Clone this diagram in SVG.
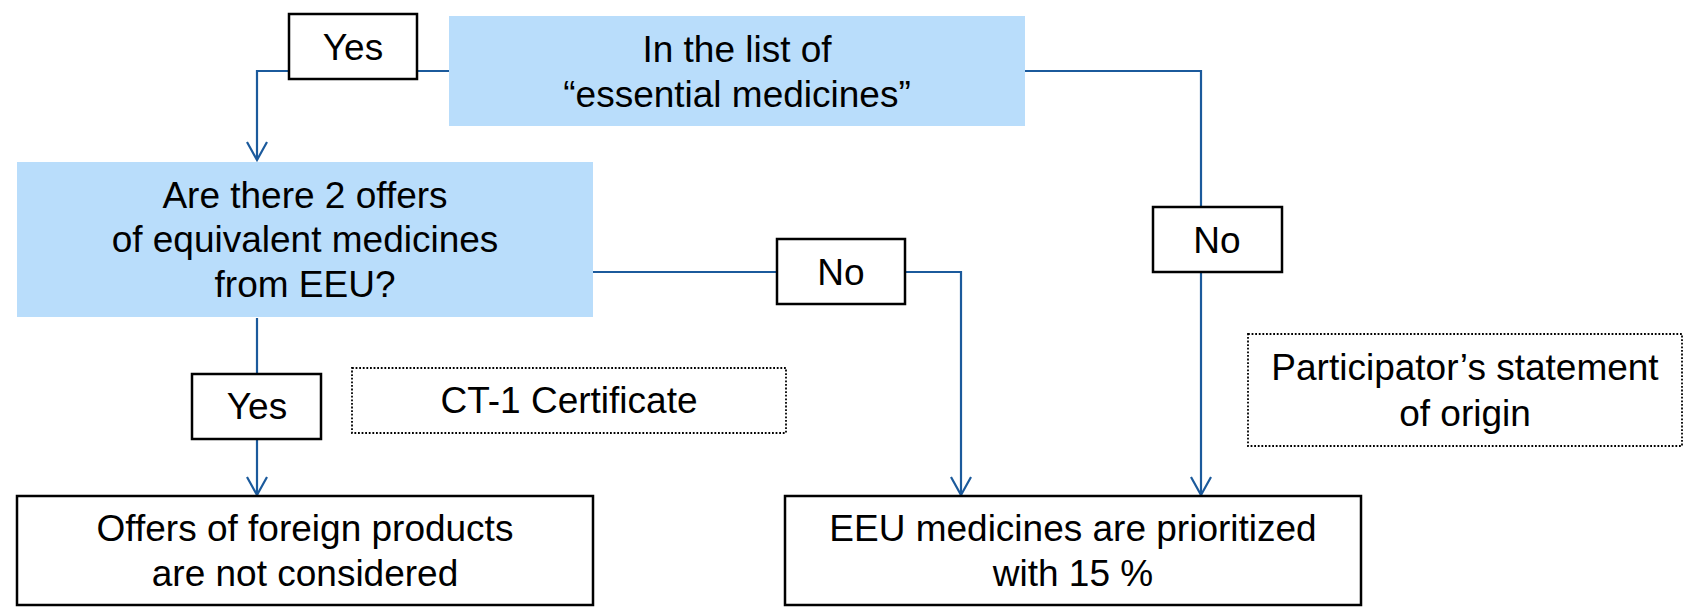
<svg xmlns="http://www.w3.org/2000/svg" width="1691" height="613" viewBox="0 0 1691 613">
<style>
text{font-family:"Liberation Sans",Arial,sans-serif;font-size:37px;fill:#000;text-anchor:middle}
.blue{fill:#B9DDFB;stroke:none}
.box{fill:#fff;stroke:#000;stroke-width:2.5}
.dot{fill:#fff;stroke:#000;stroke-width:1.8;stroke-dasharray:1.8 1.8}
.conn{fill:none;stroke:#1B5A9C;stroke-width:2.2}
</style>
<defs>
<marker id="arr" markerUnits="userSpaceOnUse" markerWidth="40" markerHeight="40" viewBox="-20 -20 40 40" refX="0" refY="0" orient="auto" overflow="visible">
<path d="M-18,-10 L0,0 L-18,10" fill="none" stroke="#1B5A9C" stroke-width="2.2"/>
</marker>
</defs>
<g id="connectors">
<path class="conn" d="M449,71 H257 V160" marker-end="url(#arr)"/>
<path class="conn" d="M257,318 V495" marker-end="url(#arr)"/>
<path class="conn" d="M593,272 H961 V495" marker-end="url(#arr)"/>
<path class="conn" d="M1025,71 H1201 V495" marker-end="url(#arr)"/>
</g>
<g id="essential">
<rect class="blue" x="449" y="16" width="576" height="110"/>
<text x="737" y="62">In the list of</text>
<text x="737" y="107">“essential medicines”</text>
</g>
<g id="offers-question">
<rect class="blue" x="17" y="162" width="576" height="155"/>
<text x="305" y="208">Are there 2 offers</text>
<text x="305" y="252">of equivalent medicines</text>
<text x="305" y="297">from EEU?</text>
</g>
<g id="yes-top">
<rect class="box" x="289" y="14" width="128" height="65"/>
<text x="353" y="60">Yes</text>
</g>
<g id="no-middle">
<rect class="box" x="777" y="239" width="128" height="65"/>
<text x="841" y="285">No</text>
</g>
<g id="no-right">
<rect class="box" x="1153" y="207" width="129" height="65"/>
<text x="1217" y="253">No</text>
</g>
<g id="yes-bottom">
<rect class="box" x="192" y="374" width="129" height="65"/>
<text x="257" y="419">Yes</text>
</g>
<g id="ct1">
<rect class="dot" x="352" y="368" width="434" height="65"/>
<text x="569" y="413">CT-1 Certificate</text>
</g>
<g id="statement">
<rect class="dot" x="1248" y="334" width="434" height="112"/>
<text x="1465" y="380">Participator’s statement</text>
<text x="1465" y="426">of origin</text>
</g>
<g id="not-considered">
<rect class="box" x="17" y="496" width="576" height="109"/>
<text x="305" y="541">Offers of foreign products</text>
<text x="305" y="586">are not considered</text>
</g>
<g id="prioritized">
<rect class="box" x="785" y="496" width="576" height="109"/>
<text x="1073" y="541">EEU medicines are prioritized</text>
<text x="1073" y="586">with 15 %</text>
</g>
</svg>
